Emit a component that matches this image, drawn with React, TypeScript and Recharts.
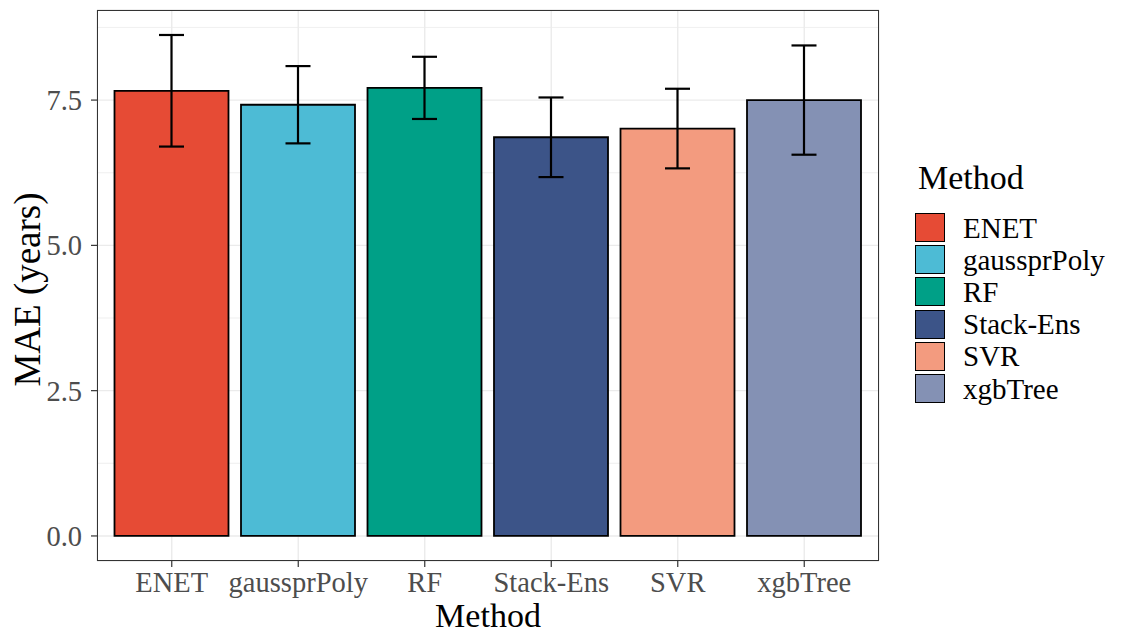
import React from 'react';
import { BarChart, Bar, Cell, XAxis, YAxis, CartesianGrid, ErrorBar } from 'recharts';

const METHODS = ['ENET', 'gaussprPoly', 'RF', 'Stack-Ens', 'SVR', 'xgbTree'];
const MAE = [7.66, 7.42, 7.71, 6.86, 7.01, 7.5];
const MAE_ERR = [0.96, 0.665, 0.535, 0.685, 0.685, 0.94];
const COLORS = ['#E64B35', '#4DBBD5', '#00A087', '#3C5488', '#F39B7F', '#8491B4'];
const Y_TICKS = [0, 2.5, 5, 7.5];
const Y_MINOR = [1.25, 3.75, 6.25, 8.75];

const FONT = '"Liberation Serif", "Times New Roman", serif';

const data = METHODS.map((m, i) => ({ method: m, mae: MAE[i], err: MAE_ERR[i] }));

const W = 1107;
const H = 625;
const M = { top: 2, right: 236, bottom: 0, left: 0 };
const Y_W = 89;
const X_H = 72;

export default function App() {
  const plotL = M.left + Y_W;
  const plotR = W - M.right;
  const plotT = M.top;
  const plotB = H - M.bottom - X_H;

  return (
    <div style={{ position: 'relative', width: W, height: H, fontFamily: FONT }}>
      <BarChart width={W} height={H} data={data} margin={M}>
        <CartesianGrid yAxisId="minor" vertical={false} stroke="#ebebeb" strokeWidth={0.8} />
        <CartesianGrid stroke="#ebebeb" strokeWidth={1.4} />
        <XAxis
          dataKey="method"
          height={X_H}
          padding={{ left: 11.5, right: 11.5 }}
          axisLine={false}
          tickLine={{ stroke: '#333', strokeWidth: 1.2 }}
          tickSize={6}
          tickMargin={5}
          tick={{ fill: '#4d4d4d', fontSize: 28.5, fontFamily: FONT }}
          interval={0}
          label={(props: any) => {
            const vb = props.viewBox;
            return (
              <text x={vb.x + vb.width / 2} y={vb.y + 66} textAnchor="middle" fontSize={34} fontFamily={FONT} fill="#000">
                Method
              </text>
            );
          }}
        />
        <YAxis
          width={Y_W}
          domain={[-0.431, 9.05]}
          ticks={Y_TICKS}
          allowDataOverflow
          tickFormatter={(v: number) => v.toFixed(1)}
          axisLine={false}
          tickLine={{ stroke: '#333', strokeWidth: 1.2 }}
          tickSize={6}
          tickMargin={9}
          tick={{ fill: '#4d4d4d', fontSize: 28.5, fontFamily: FONT }}
          label={(props: any) => {
            const vb = props.viewBox;
            const cy = vb.y + vb.height / 2 + 4;
            return (
              <text transform={`translate(32, ${cy}) rotate(-90)`} textAnchor="middle" fontSize={37} fontFamily={FONT} fill="#000">
                MAE (years)
              </text>
            );
          }}
        />
        <YAxis yAxisId="minor" hide domain={[-0.431, 9.05]} ticks={Y_MINOR} allowDataOverflow />
        <Bar dataKey="mae" barSize={114} stroke="#000" strokeWidth={1.8} isAnimationActive={false}>
          {data.map((_, i) => (
            <Cell key={`cell-${i}`} fill={COLORS[i]} />
          ))}
          <ErrorBar dataKey="err" width={12.5} stroke="#000" strokeWidth={2.2} direction="y" />
        </Bar>
      </BarChart>

      {/* panel border */}
      <div
        style={{
          position: 'absolute',
          left: plotL,
          top: plotT,
          width: plotR - plotL,
          height: plotB - plotT,
          border: '1.2px solid #333',
          boxSizing: 'border-box',
          pointerEvents: 'none',
        }}
      />

      {/* legend */}
      <div style={{ position: 'absolute', left: 910, top: 152.8, fontSize: 34, lineHeight: '34px', color: '#000' }}>
        Method
      </div>
      <div style={{ position: 'absolute', left: 907, top: 203.5 }}>
        {METHODS.map((m, i) => (
          <div key={m} style={{ display: 'flex', alignItems: 'center', height: 32.2 }}>
            <div
              style={{
                width: 30,
                height: 29,
                background: COLORS[i],
                border: '1.6px solid #000',
                boxSizing: 'border-box',
                marginRight: 18,
              }}
            />
            <span style={{ fontSize: 29, lineHeight: '32px', color: '#000' }}>{m}</span>
          </div>
        ))}
      </div>
    </div>
  );
}
